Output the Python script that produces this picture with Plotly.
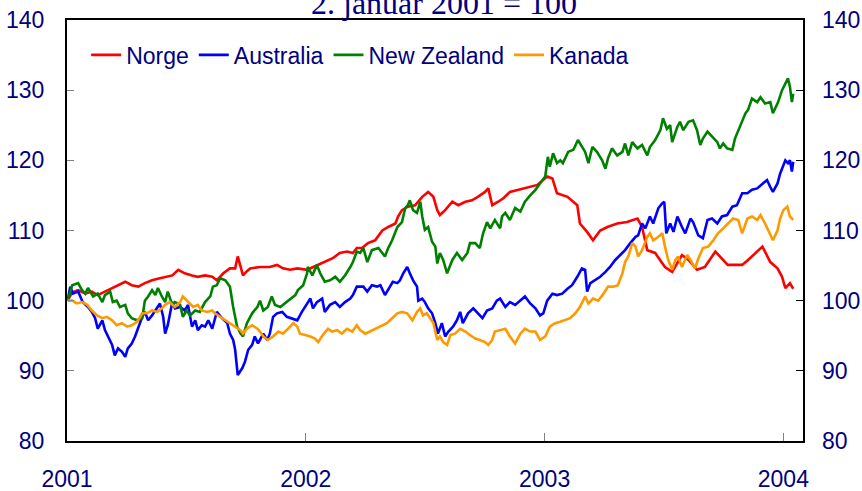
import pandas as pd
import plotly.graph_objects as go

# Index, 2 January 2001 = 100. Each pair: (days after 1 Jan 2001, index value)
norge = [
    (1, 100.0), (8, 101.2), (17, 101.5), (28, 101.0), (38, 101.3), (47, 100.8), (58, 101.3), (69, 101.8), (78, 102.2), (89, 102.7),
    (99, 102.2), (109, 102.0), (119, 102.5), (130, 102.9), (142, 103.2), (150, 103.4), (161, 103.6), (170, 104.4), (180, 103.9), (191, 103.6),
    (200, 103.4), (211, 103.6), (222, 103.4), (229, 102.9), (239, 103.9), (249, 104.6), (257, 104.6), (261, 106.3), (265, 105.1), (269, 103.6),
    (275, 104.2), (280, 104.6), (295, 104.8), (310, 104.8), (321, 105.1), (330, 104.6), (341, 104.4), (352, 104.6), (367, 104.4), (376, 104.8),
    (387, 105.3), (398, 105.8), (407, 106.1), (417, 106.8), (428, 107.0), (437, 106.8), (443, 107.5), (451, 107.5), (460, 108.2), (471, 108.6),
    (482, 110.0), (491, 110.5), (502, 111.0), (506, 112.0), (512, 112.9), (521, 113.4), (532, 113.6), (543, 114.8), (552, 115.5), (560, 114.8),
    (566, 112.9), (570, 112.2), (578, 112.9), (589, 114.1), (598, 113.6), (609, 114.1), (619, 114.3), (628, 114.8), (639, 115.5), (644, 116.0),
    (650, 113.6), (659, 114.1), (667, 114.6), (677, 115.5), (690, 115.8), (703, 116.2), (719, 116.5), (734, 117.7), (742, 117.4), (749, 115.3),
    (765, 114.8), (780, 113.6), (784, 111.0), (795, 109.8), (804, 108.6), (815, 110.0), (826, 110.5), (841, 111.0), (856, 111.2), (872, 111.7),
    (879, 110.5), (887, 107.2), (899, 106.8), (914, 104.8), (925, 104.1), (940, 106.5), (950, 105.8), (963, 104.4), (975, 104.8), (991, 107.0),
    (1010, 105.1), (1032, 105.1), (1041, 105.8), (1063, 107.7), (1075, 105.5), (1086, 104.6), (1093, 103.4), (1098, 101.8), (1105, 102.5), (1110, 101.7),
]

australia = [
    (1, 100.0), (5, 102.0), (9, 101.0), (17, 101.3), (24, 99.8), (32, 99.1), (38, 98.4), (43, 97.5), (47, 96.0), (54, 97.2),
    (58, 95.8), (63, 94.9), (69, 93.7), (73, 92.2), (78, 93.2), (84, 92.7), (89, 92.0), (93, 93.2), (99, 93.9), (104, 94.9),
    (109, 96.3), (115, 97.7), (119, 98.4), (124, 97.2), (130, 97.9), (135, 98.6), (142, 99.6), (147, 97.7), (150, 95.3), (154, 96.5),
    (161, 99.8), (165, 98.9), (173, 99.1), (180, 98.6), (185, 99.4), (191, 96.3), (196, 97.2), (200, 95.8), (206, 96.5), (211, 96.3),
    (216, 97.2), (222, 96.0), (226, 97.5), (229, 98.4), (237, 97.5), (245, 96.8), (249, 95.3), (254, 94.4), (257, 93.0), (260, 90.6),
    (261, 89.4), (268, 90.4), (272, 91.3), (277, 93.0), (283, 93.7), (287, 94.9), (292, 93.9), (300, 95.3), (306, 94.4), (310, 95.3),
    (315, 97.7), (321, 98.2), (329, 98.4), (336, 97.7), (344, 97.5), (352, 97.2), (359, 98.4), (367, 99.6), (372, 100.3), (376, 98.9),
    (382, 99.8), (390, 100.3), (394, 98.4), (402, 99.4), (410, 99.8), (417, 99.1), (425, 99.8), (433, 100.3), (437, 100.8), (443, 102.0),
    (453, 102.0), (459, 101.3), (466, 102.2), (474, 102.0), (479, 102.2), (486, 100.8), (494, 102.0), (498, 102.7), (505, 102.5), (509, 102.9),
    (514, 103.9), (520, 104.8), (524, 103.9), (529, 102.9), (535, 102.0), (537, 100.0), (543, 100.3), (547, 99.8), (552, 98.9), (558, 98.2),
    (563, 96.8), (567, 95.3), (573, 96.8), (578, 94.9), (583, 95.6), (590, 96.3), (596, 97.2), (601, 98.4), (605, 96.8), (613, 98.2),
    (621, 98.9), (628, 98.2), (635, 97.5), (642, 98.6), (650, 98.9), (657, 100.0), (662, 100.3), (670, 99.1), (677, 99.8), (685, 99.4),
    (693, 100.0), (700, 100.6), (708, 99.6), (716, 98.9), (723, 97.9), (728, 98.2), (734, 100.0), (742, 101.0), (749, 100.8), (757, 101.0),
    (765, 101.7), (772, 102.2), (780, 103.4), (787, 104.6), (792, 104.4), (795, 101.3), (800, 102.5), (807, 102.9), (815, 103.4), (823, 104.1),
    (830, 104.8), (838, 105.8), (846, 106.5), (853, 107.2), (861, 108.2), (869, 109.1), (873, 109.3), (879, 111.0), (884, 110.3), (891, 112.0),
    (896, 111.0), (904, 113.2), (910, 113.9), (913, 114.1), (916, 109.6), (922, 111.0), (927, 109.8), (933, 112.0), (940, 110.5), (945, 109.6),
    (953, 111.7), (957, 111.2), (965, 109.3), (972, 108.9), (979, 111.5), (986, 111.7), (994, 111.0), (1001, 112.0), (1009, 112.2), (1017, 113.4),
    (1024, 113.6), (1032, 115.3), (1040, 115.3), (1047, 115.8), (1055, 116.0), (1063, 116.7), (1070, 117.2), (1075, 116.2), (1079, 115.5), (1086, 116.7),
    (1090, 118.1), (1098, 120.0), (1102, 119.6), (1105, 120.0), (1108, 118.4), (1110, 119.8),
]

new_zealand = [
    (1, 100.0), (8, 102.2), (17, 102.5), (23, 101.5), (28, 101.0), (32, 101.8), (40, 100.6), (47, 101.0), (54, 99.8), (58, 100.8),
    (66, 101.3), (70, 99.8), (76, 100.0), (81, 99.1), (89, 99.4), (93, 98.2), (99, 97.5), (107, 97.2), (115, 97.5), (119, 100.0),
    (124, 100.6), (130, 101.5), (135, 100.8), (139, 101.8), (145, 100.6), (150, 99.8), (154, 101.3), (161, 99.4), (165, 99.8), (173, 99.4),
    (177, 97.7), (183, 98.6), (188, 97.9), (196, 98.6), (203, 98.4), (211, 99.8), (219, 100.6), (223, 102.0), (229, 102.2), (234, 103.2),
    (242, 102.9), (249, 102.0), (254, 99.1), (260, 96.3), (265, 95.4), (269, 94.9), (275, 96.8), (283, 98.2), (291, 99.1), (295, 100.0),
    (300, 98.6), (307, 99.1), (313, 100.6), (318, 99.4), (326, 99.1), (333, 99.6), (341, 100.2), (349, 100.8), (353, 101.5), (361, 102.2),
    (367, 103.9), (368, 104.8), (375, 103.6), (382, 105.1), (387, 103.9), (394, 102.7), (402, 102.9), (410, 103.4), (417, 102.7), (425, 103.6),
    (433, 104.8), (437, 105.5), (443, 107.0), (448, 106.8), (453, 107.5), (459, 105.5), (466, 107.2), (476, 107.5), (486, 106.3), (491, 107.5),
    (497, 108.6), (505, 110.5), (512, 111.2), (517, 113.2), (521, 113.6), (524, 114.3), (529, 112.9), (535, 112.5), (540, 114.1), (543, 112.0),
    (547, 110.1), (552, 110.5), (558, 108.4), (563, 107.7), (566, 105.3), (570, 106.8), (575, 105.8), (581, 103.9), (589, 105.8), (596, 106.8),
    (604, 105.8), (612, 106.8), (616, 108.2), (624, 108.2), (631, 107.5), (636, 109.6), (642, 111.2), (647, 110.3), (654, 111.5), (662, 110.3),
    (665, 112.0), (670, 112.5), (677, 111.5), (685, 113.2), (693, 112.7), (700, 114.1), (708, 115.0), (716, 115.8), (723, 116.7), (731, 117.7),
    (735, 120.5), (738, 119.1), (743, 121.0), (749, 119.6), (754, 120.0), (758, 119.6), (766, 121.2), (774, 121.5), (781, 122.9), (787, 121.9),
    (792, 121.2), (797, 119.6), (803, 121.9), (810, 121.2), (818, 120.0), (823, 118.8), (827, 120.3), (833, 121.7), (841, 120.7), (849, 121.2),
    (853, 122.4), (858, 120.7), (864, 122.6), (872, 121.7), (879, 122.2), (887, 120.7), (891, 121.9), (899, 122.9), (907, 124.3), (911, 126.0),
    (917, 124.5), (922, 125.0), (925, 122.6), (933, 124.8), (937, 125.5), (942, 124.3), (950, 125.5), (957, 125.7), (963, 124.3), (968, 122.2),
    (972, 123.1), (979, 124.1), (986, 123.4), (994, 122.6), (998, 121.7), (1003, 122.4), (1009, 121.7), (1017, 121.5), (1021, 123.1), (1029, 124.8),
    (1037, 126.7), (1041, 127.2), (1047, 128.8), (1055, 128.3), (1060, 129.0), (1067, 128.1), (1075, 128.3), (1079, 126.7), (1087, 128.3), (1093, 130.0),
    (1098, 131.0), (1102, 131.7), (1105, 130.5), (1108, 128.3), (1110, 129.5),
]

kanada = [
    (1, 100.0), (8, 100.0), (15, 99.6), (23, 99.8), (31, 99.4), (38, 98.6), (46, 97.9), (54, 97.5), (61, 97.7), (69, 97.2),
    (76, 96.5), (84, 96.8), (92, 96.3), (99, 96.5), (107, 97.0), (115, 98.2), (122, 98.2), (130, 98.6), (138, 98.4), (145, 98.9),
    (150, 99.4), (157, 99.8), (165, 99.1), (173, 99.8), (177, 100.6), (183, 100.0), (188, 99.6), (193, 99.1), (200, 99.4), (206, 98.6),
    (214, 98.4), (222, 98.6), (226, 98.2), (234, 97.7), (242, 97.2), (249, 96.8), (257, 96.3), (265, 95.8), (269, 95.3), (275, 96.0),
    (283, 96.5), (291, 96.0), (295, 95.6), (300, 94.9), (307, 94.4), (315, 94.9), (323, 95.6), (330, 95.3), (338, 96.0), (346, 96.8),
    (352, 96.3), (356, 95.3), (364, 95.1), (372, 94.9), (379, 94.6), (384, 94.1), (391, 95.1), (399, 96.0), (405, 95.6), (413, 95.8),
    (420, 95.3), (428, 96.0), (436, 95.6), (443, 96.5), (448, 95.8), (456, 95.3), (463, 95.6), (471, 96.0), (482, 96.5), (489, 96.8),
    (497, 97.5), (505, 98.2), (512, 98.4), (520, 98.2), (528, 97.2), (535, 98.4), (540, 98.9), (544, 97.9), (550, 98.2), (555, 97.5),
    (560, 96.8), (566, 94.4), (570, 94.9), (575, 94.1), (581, 93.7), (586, 95.1), (593, 95.3), (601, 96.0), (609, 95.6), (616, 95.1),
    (624, 94.6), (631, 94.4), (639, 94.1), (644, 93.7), (650, 94.4), (654, 95.6), (662, 95.8), (670, 96.0), (677, 94.9), (685, 93.9),
    (693, 95.3), (700, 96.0), (708, 95.6), (716, 95.6), (723, 94.4), (731, 94.9), (738, 96.3), (746, 96.8), (754, 97.0), (761, 97.2),
    (769, 97.5), (777, 98.2), (784, 99.1), (792, 100.6), (797, 99.6), (804, 100.3), (812, 100.0), (820, 101.0), (827, 102.0), (835, 102.0),
    (842, 102.2), (849, 103.9), (853, 105.5), (858, 106.3), (864, 108.2), (869, 107.7), (873, 106.3), (879, 107.2), (887, 109.1), (891, 109.6),
    (896, 108.6), (904, 109.1), (910, 109.6), (914, 107.7), (919, 105.8), (925, 104.4), (930, 105.8), (934, 106.3), (940, 104.8), (948, 106.5),
    (953, 105.8), (960, 104.6), (965, 106.0), (972, 107.5), (980, 107.7), (988, 108.6), (995, 109.6), (1003, 110.3), (1010, 111.0), (1018, 111.7),
    (1026, 111.5), (1032, 109.6), (1040, 111.7), (1047, 112.0), (1055, 111.5), (1060, 112.2), (1067, 111.0), (1075, 109.3), (1079, 108.6), (1086, 110.0),
    (1090, 111.7), (1095, 112.9), (1101, 113.4), (1105, 112.0), (1110, 111.5),
]

series_names = ["Norge", "Australia", "New Zealand", "Kanada"]
series_colors = ["#FF0000", "#0000FF", "#008000", "#FF9900"]
year_ticks = ["2001-01-01", "2002-01-01", "2003-01-01", "2004-01-01"]
year_labels = ["2001", "2002", "2003", "2004"]
title_text = "2. januar 2001 = 100"

base = pd.Timestamp("2001-01-01")


def to_xy(pairs):
    days, vals = zip(*pairs)
    return base + pd.to_timedelta(list(days), unit="D"), list(vals)


NAVY = "#000080"
SANS = "Liberation Sans, Arial, sans-serif"

fig = go.Figure()
for name, color, data in zip(series_names, series_colors, [norge, australia, new_zealand, kanada]):
    x, y = to_xy(data)
    fig.add_trace(go.Scatter(x=x, y=y, mode="lines", name=name,
                             line=dict(color=color, width=2.6), hoverinfo="skip"))

# empty trace to activate the right-hand axis
fig.add_trace(go.Scatter(x=[], y=[], yaxis="y2", showlegend=False, hoverinfo="skip"))

fig.update_layout(
    width=862, height=491,
    margin=dict(l=67, r=59, t=20, b=50),
    paper_bgcolor="white", plot_bgcolor="white",
    showlegend=True,
    legend=dict(orientation="h", x=0.026, y=0.917, xanchor="left", yanchor="middle",
                font=dict(family=SANS, size=23, color=NAVY), bgcolor="rgba(0,0,0,0)",
                itemwidth=30, tracegroupgap=0),
    xaxis=dict(type="date", range=["2001-01-01", "2004-01-31"],
               tickvals=year_ticks, ticktext=year_labels,
               ticks="inside", ticklen=8, tickcolor="#808080", tickwidth=1,
               showline=True, linecolor="black", linewidth=2, mirror=True,
               showgrid=False, zeroline=False, automargin=False,
               tickfont=dict(family=SANS, size=23, color=NAVY),
               ticklabelstandoff=16),
    yaxis=dict(range=[80, 140], dtick=10, tick0=80,
               ticks="inside", ticklen=7, tickcolor="#808080", tickwidth=1,
               showline=True, linecolor="black", linewidth=2, mirror=True,
               showgrid=False, zeroline=False, automargin=False,
               tickfont=dict(family=SANS, size=23, color=NAVY),
               ticklabelstandoff=16),
    yaxis2=dict(range=[80, 140], dtick=10, tick0=80, overlaying="y", side="right",
                ticks="inside", ticklen=7, tickcolor="black", tickwidth=1,
                showline=False, showgrid=False, zeroline=False, automargin=False,
                tickfont=dict(family=SANS, size=23, color=NAVY),
                ticklabelstandoff=18),
    annotations=[dict(text=title_text, xref="paper", yref="paper", x=0.512, y=1.040,
                      xanchor="center", yanchor="middle", showarrow=False,
                      font=dict(family="Liberation Serif, Times New Roman, serif", size=32, color=NAVY))],
)

fig.write_html("out.html", config={"displayModeBar": False},
               post_script="document.body.style.margin='0';document.body.style.overflow='hidden';")
